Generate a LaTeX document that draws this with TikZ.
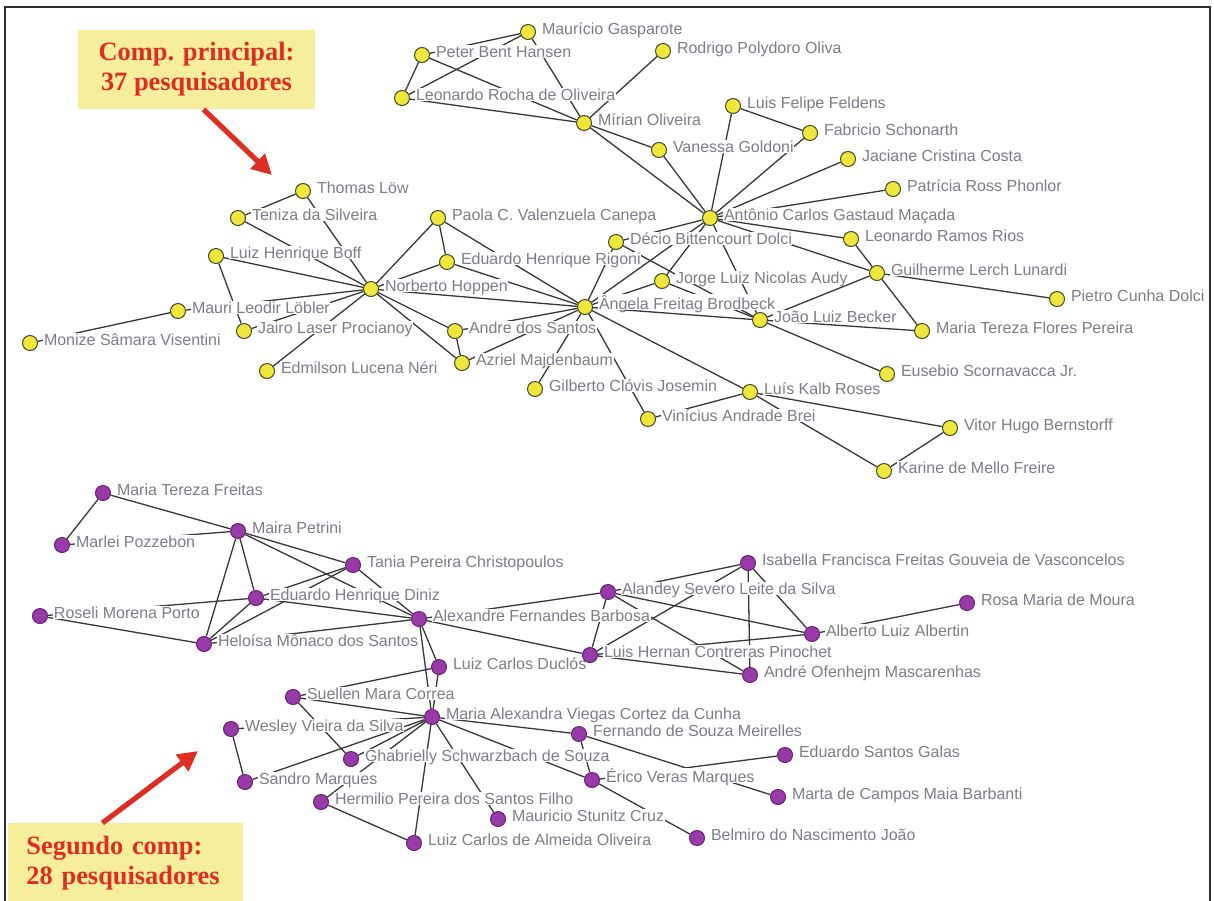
\documentclass[tikz,border=0pt]{standalone}
\usepackage{fontspec}
\setmainfont{Liberation Serif}
\newfontfamily\namefont{Liberation Sans}
\usepackage{xcolor}
\usepackage{tikz}
\usetikzlibrary{arrows.meta, backgrounds, positioning}
\definecolor{nodeyellow}{RGB}{238,232,62}
\definecolor{yedge}{RGB}{70,70,40}
\definecolor{nodepurple}{RGB}{152,58,168}
\definecolor{pedge}{RGB}{105,30,115}
\definecolor{namegray}{RGB}{125,125,135}
\definecolor{edgegray}{RGB}{55,55,55}
\definecolor{boxyellow}{RGB}{247,238,155}
\definecolor{notered}{RGB}{222,45,35}
\definecolor{framegray}{RGB}{45,45,45}

\begin{document}
\begin{tikzpicture}[x=0.5pt, y=-0.5pt]

	\tikzstyle{ynode}=[circle, draw=yedge, line width=0.5pt, fill=nodeyellow, minimum size=7.5pt, inner sep=0pt]
	\tikzstyle{pnode}=[circle, draw=pedge, line width=0.5pt, fill=nodepurple, minimum size=7.5pt, inner sep=0pt]
	\tikzstyle{pname}=[anchor=base west, xshift=6.5pt, yshift=-1pt, font=\namefont\fontsize{8}{9}\selectfont, text=namegray, fill=white, inner sep=0.3pt, text depth=0pt]
	\tikzstyle{link}=[draw=edgegray, line width=0.65pt]
	\tikzstyle{notebox}=[fill=boxyellow, text=notered, font=\fontsize{13.2}{15}\selectfont\bfseries, inner sep=0pt]
	\tikzstyle{redarrow}=[draw=notered, line width=2.6pt, -{Triangle[length=10pt, width=10pt]}]

	\useasboundingbox (0,0) rectangle (1214,900);
	\draw [line width=1.2pt, framegray] (5,910) -- (5,7) -- (1210,7) -- (1210,910);

	%% principal component
	\node (mg) at (528,32) [ynode] {};
	\node (mg-t) at (mg) [pname] {Maurício Gasparote};
	\node (pbh) at (422,55) [ynode] {};
	\node (pbh-t) at (pbh) [pname] {Peter Bent Hansen};
	\node (rpo) at (663,51) [ynode] {};
	\node (rpo-t) at (rpo) [pname] {Rodrigo Polydoro Oliva};
	\node (lro) at (402,98) [ynode] {};
	\node (lro-t) at (lro) [pname] {Leonardo Rocha de Oliveira};
	\node (mo) at (584,123) [ynode] {};
	\node (mo-t) at (mo) [pname] {Mírian Oliveira};
	\node (vg) at (659,150) [ynode] {};
	\node (vg-t) at (vg) [pname] {Vanessa Goldoni};
	\node (lff) at (733,106) [ynode] {};
	\node (lff-t) at (lff) [pname] {Luis Felipe Feldens};
	\node (fs) at (810,133) [ynode] {};
	\node (fs-t) at (fs) [pname] {Fabricio Schonarth};
	\node (jcc) at (848,159) [ynode] {};
	\node (jcc-t) at (jcc) [pname] {Jaciane Cristina Costa};
	\node (prp) at (893,189) [ynode] {};
	\node (prp-t) at (prp) [pname] {Patrícia Ross Phonlor};
	\node (acgm) at (710,218) [ynode] {};
	\node (acgm-t) at (acgm) [pname] {Antônio Carlos Gastaud Maçada};
	\node (lrr) at (851,239) [ynode] {};
	\node (lrr-t) at (lrr) [pname] {Leonardo Ramos Rios};
	\node (gll) at (877,273) [ynode] {};
	\node (gll-t) at (gll) [pname] {Guilherme Lerch Lunardi};
	\node (pcd) at (1057,299) [ynode] {};
	\node (pcd-t) at (pcd) [pname] {Pietro Cunha Dolci};
	\node (mtfp) at (922,331) [ynode] {};
	\node (mtfp-t) at (mtfp) [pname] {Maria Tereza Flores Pereira};
	\node (esj) at (887,374) [ynode] {};
	\node (esj-t) at (esj) [pname] {Eusebio Scornavacca Jr.};
	\node (vhb) at (950,428) [ynode] {};
	\node (vhb-t) at (vhb) [pname] {Vitor Hugo Bernstorff};
	\node (kmf) at (884,471) [ynode] {};
	\node (kmf-t) at (kmf) [pname] {Karine de Mello Freire};
	\node (lkr) at (750,392) [ynode] {};
	\node (lkr-t) at (lkr) [pname] {Luís Kalb Roses};
	\node (vab) at (648,419) [ynode] {};
	\node (vab-t) at (vab) [pname] {Vinícius Andrade Brei};
	\node (gcj) at (535,389) [ynode] {};
	\node (gcj-t) at (gcj) [pname] {Gilberto Clóvis Josemin};
	\node (am) at (462,363) [ynode] {};
	\node (am-t) at (am) [pname] {Azriel Majdenbaum};
	\node (ads) at (455,331) [ynode] {};
	\node (ads-t) at (ads) [pname] {Andre dos Santos};
	\node (afb) at (585,307) [ynode] {};
	\node (afb-t) at (afb) [pname] {Ângela Freitag Brodbeck};
	\node (jlna) at (662,281) [ynode] {};
	\node (jlna-t) at (jlna) [pname] {Jorge Luiz Nicolas Audy};
	\node (dbd) at (616,242) [ynode] {};
	\node (dbd-t) at (dbd) [pname] {Décio Bittencourt Dolci};
	\node (jlb) at (760,320) [ynode] {};
	\node (jlb-t) at (jlb) [pname] {João Luiz Becker};
	\node (ehr) at (447,262) [ynode] {};
	\node (ehr-t) at (ehr) [pname] {Eduardo Henrique Rigoni};
	\node (pcvc) at (438,218) [ynode] {};
	\node (pcvc-t) at (pcvc) [pname] {Paola C. Valenzuela Canepa};
	\node (nh) at (371,289) [ynode] {};
	\node (nh-t) at (nh) [pname] {Norberto Hoppen};
	\node (tl) at (303,191) [ynode] {};
	\node (tl-t) at (tl) [pname] {Thomas Löw};
	\node (ts) at (238,218) [ynode] {};
	\node (ts-t) at (ts) [pname] {Teniza da Silveira};
	\node (lhb) at (216,256) [ynode] {};
	\node (lhb-t) at (lhb) [pname] {Luiz Henrique Boff};
	\node (mll) at (178,311) [ynode] {};
	\node (mll-t) at (mll) [pname] {Mauri Leodir Löbler};
	\node (jlp) at (244,331) [ynode] {};
	\node (jlp-t) at (jlp) [pname] {Jairo Laser Procianoy};
	\node (msv) at (30,343) [ynode] {};
	\node (msv-t) at (msv) [pname] {Monize Sâmara Visentini};
	\node (eln) at (267,371) [ynode] {};
	\node (eln-t) at (eln) [pname] {Edmilson Lucena Néri};

	%% second component
	\node (mtf) at (103,493) [pnode] {};
	\node (mtf-t) at (mtf) [pname] {Maria Tereza Freitas};
	\node (mpz) at (62,545) [pnode] {};
	\node (mpz-t) at (mpz) [pname] {Marlei Pozzebon};
	\node (mpe) at (238,531) [pnode] {};
	\node (mpe-t) at (mpe) [pname] {Maira Petrini};
	\node (tpc) at (353,565) [pnode] {};
	\node (tpc-t) at (tpc) [pname] {Tania Pereira Christopoulos};
	\node (ehd) at (256,598) [pnode] {};
	\node (ehd-t) at (ehd) [pname] {Eduardo Henrique Diniz};
	\node (rmp) at (40,616) [pnode] {};
	\node (rmp-t) at (rmp) [pname] {Roseli Morena Porto};
	\node (hms) at (204,644) [pnode] {};
	\node (hms-t) at (hms) [pname] {Heloísa Mônaco dos Santos};
	\node (afba) at (419,619) [pnode] {};
	\node (afba-t) at (afba) [pname] {Alexandre Fernandes Barbosa};
	\node (lcd) at (439,667) [pnode] {};
	\node (lcd-t) at (lcd) [pname] {Luiz Carlos Duclós};
	\node (asls) at (608,592) [pnode] {};
	\node (asls-t) at (asls) [pname] {Alandey Severo Leite da Silva};
	\node (iff) at (748,563) [pnode] {};
	\node (iff-t) at (iff) [pname] {Isabella Francisca Freitas Gouveia de Vasconcelos};
	\node (lhcp) at (590,655) [pnode] {};
	\node (lhcp-t) at (lhcp) [pname] {Luis Hernan Contreras Pinochet};
	\node (aom) at (750,675) [pnode] {};
	\node (aom-t) at (aom) [pname] {André Ofenhejm Mascarenhas};
	\node (ala) at (812,634) [pnode] {};
	\node (ala-t) at (ala) [pname] {Alberto Luiz Albertin};
	\node (rmm) at (967,603) [pnode] {};
	\node (rmm-t) at (rmm) [pname] {Rosa Maria de Moura};
	\node (smc) at (293,697) [pnode] {};
	\node (smc-t) at (smc) [pname] {Suellen Mara Correa};
	\node (wvs) at (231,729) [pnode] {};
	\node (wvs-t) at (wvs) [pname] {Wesley Vieira da Silva};
	\node (gss) at (351,759) [pnode] {};
	\node (gss-t) at (gss) [pname] {Ghabrielly Schwarzbach de Souza};
	\node (smq) at (245,782) [pnode] {};
	\node (smq-t) at (smq) [pname] {Sandro Marques};
	\node (hps) at (321,802) [pnode] {};
	\node (hps-t) at (hps) [pname] {Hermilio Pereira dos Santos Filho};
	\node (lcao) at (414,843) [pnode] {};
	\node (lcao-t) at (lcao) [pname] {Luiz Carlos de Almeida Oliveira};
	\node (mavc) at (432,717) [pnode] {};
	\node (mavc-t) at (mavc) [pname] {Maria Alexandra Viegas Cortez da Cunha};
	\node (fsm) at (579,734) [pnode] {};
	\node (fsm-t) at (fsm) [pname] {Fernando de Souza Meirelles};
	\node (evm) at (592,780) [pnode] {};
	\node (evm-t) at (evm) [pname] {Érico Veras Marques};
	\node (msc) at (498,819) [pnode] {};
	\node (msc-t) at (msc) [pname] {Mauricio Stunitz Cruz};
	\node (bnj) at (697,838) [pnode] {};
	\node (bnj-t) at (bnj) [pname] {Belmiro do Nascimento João};
	\node (esg) at (785,755) [pnode] {};
	\node (esg-t) at (esg) [pname] {Eduardo Santos Galas};
	\node (mcmb) at (778,797) [pnode] {};
	\node (mcmb-t) at (mcmb) [pname] {Marta de Campos Maia Barbanti};

	\begin{scope}[on background layer]
	\draw [link] (pbh) -- (lro);
	\draw [link] (pbh) -- (mg);
	\draw [link] (lro) -- (mg);
	\draw [link] (pbh) -- (mo);
	\draw [link] (mg) -- (mo);
	\draw [link] (lro) -- (mo);
	\draw [link] (rpo) -- (mo);
	\draw [link] (mo) -- (vg);
	\draw [link] (mo) -- (acgm);
	\draw [link] (vg) -- (acgm);
	\draw [link] (lff) -- (acgm);
	\draw [link] (lff) -- (fs);
	\draw [link] (fs) -- (acgm);
	\draw [link] (jcc) -- (acgm);
	\draw [link] (prp) -- (acgm);
	\draw [link] (acgm) -- (lrr);
	\draw [link] (acgm) -- (gll);
	\draw [link] (acgm) -- (dbd);
	\draw [link] (acgm) -- (afb);
	\draw [link] (acgm) -- (jlna);
	\draw [link] (acgm) -- (jlb);
	\draw [link] (lrr) -- (gll);
	\draw [link] (gll) -- (pcd);
	\draw [link] (gll) -- (mtfp);
	\draw [link] (jlb) -- (gll);
	\draw [link] (jlb) -- (mtfp);
	\draw [link] (jlb) -- (esj);
	\draw [link] (afb) -- (jlb);
	\draw [link] (dbd) -- (jlb);
	\draw [link] (jlna) -- (afb);
	\draw [link] (jlna) -- (jlb);
	\draw [link] (afb) -- (dbd);
	\draw [link] (afb) -- (lkr);
	\draw [link] (lkr) -- (vhb);
	\draw [link] (vhb) -- (kmf);
	\draw [link] (lkr) -- (kmf);
	\draw [link] (lkr) -- (vab);
	\draw [link] (afb) -- (vab);
	\draw [link] (afb) -- (gcj);
	\draw [link] (afb) -- (am);
	\draw [link] (afb) -- (ads);
	\draw [link] (afb) -- (nh);
	\draw [link] (afb) -- (pcvc);
	\draw [link] (afb) -- (ehr);
	\draw [link] (nh) -- (tl);
	\draw [link] (tl) -- (ts);
	\draw [link] (ts) -- (nh);
	\draw [link] (lhb) -- (nh);
	\draw [link] (lhb) -- (jlp);
	\draw [link] (mll) -- (msv);
	\draw [link] (mll) -- (nh);
	\draw [link] (jlp) -- (nh);
	\draw [link] (eln) -- (nh);
	\draw [link] (nh) -- (ads);
	\draw [link] (nh) -- (am);
	\draw [link] (ads) -- (am);
	\draw [link] (nh) -- (pcvc);
	\draw [link] (pcvc) -- (ehr);
	\draw [link] (nh) -- (ehr);

	\draw [link] (mtf) -- (mpz);
	\draw [link] (mtf) -- (mpe);
	\draw [link] (mpz) -- (mpe);
	\draw [link] (mpe) -- (tpc);
	\draw [link] (mpe) -- (ehd);
	\draw [link] (mpe) -- (hms);
	\draw [link] (mpe) -- (afba);
	\draw [link] (tpc) -- (ehd);
	\draw [link] (tpc) -- (hms);
	\draw [link] (tpc) -- (afba);
	\draw [link] (rmp) -- (ehd);
	\draw [link] (rmp) -- (hms);
	\draw [link] (ehd) -- (hms);
	\draw [link] (ehd) -- (afba);
	\draw [link] (hms) -- (afba);
	\draw [link] (afba) -- (lcd);
	\draw [link] (afba) -- (lhcp);
	\draw [link] (afba) -- (mavc);
	\draw [link] (afba) -- (asls);
	\draw [link] (lcd) -- (mavc);
	\draw [link] (smc) -- (lcd);
	\draw [link] (asls) -- (iff);
	\draw [link] (asls) -- (ala);
	\draw [link] (asls) -- (lhcp);
	\draw [link] (asls) -- (aom);
	\draw [link] (iff) -- (lhcp);
	\draw [link] (iff) -- (aom);
	\draw [link] (iff) -- (ala);
	\draw [link] (lhcp) -- (ala);
	\draw [link] (lhcp) -- (aom);
	\draw [link] (ala) -- (rmm);
	\draw [link] (smc) -- (mavc);
	\draw [link] (smc) -- (gss);
	\draw [link] (wvs) -- (smq);
	\draw [link] (wvs) -- (mavc);
	\draw [link] (smq) -- (mavc);
	\draw [link] (gss) -- (mavc);
	\draw [link] (hps) -- (lcao);
	\draw [link] (mavc) -- (lcao);
	\draw [link] (mavc) -- (hps);
	\draw [link] (mavc) -- (msc);
	\draw [link] (mavc) -- (evm);
	\draw [link] (mavc) -- (fsm);
	\draw [link] (fsm) -- (evm);
	\draw [link] (fsm) -- (mcmb);
	\draw [link] (evm) -- (esg);
	\draw [link] (evm) -- (bnj);
	\end{scope}

	\node (compbox) at (196.5,69.5) [notebox, minimum width=118.5pt, minimum height=39.5pt, align=center] {Comp. principal:\\37 pesquisadores};
	\coordinate (tipa) at (272,175);
	\draw [redarrow] ([xshift=3.5pt]compbox.south) -- (tipa);

	\node (segbox) at (8,823) [notebox, anchor=north west, inner xsep=9pt, text width=99.5pt, minimum height=40pt, align=left] {Segundo comp:\\28 pesquisadores};
	\coordinate (tipb) at (198,751);
	\draw [redarrow] ([xshift=-11.75pt]segbox.north) -- (tipb);
\end{tikzpicture}
\end{document}
